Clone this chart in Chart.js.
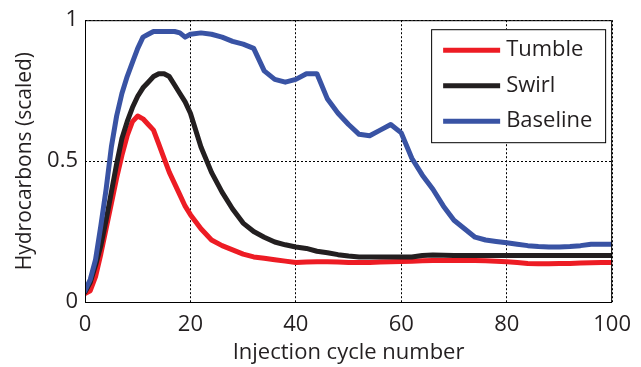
<!DOCTYPE html>
<html>
<head>
<meta charset="utf-8">
<style>
  html, body { margin: 0; padding: 0; background: #fff; }
  #wrap { width: 641px; height: 367px; }
</style>
<script src="https://cdn.jsdelivr.net/npm/chart.js@4/dist/chart.umd.min.js"></script>
</head>
<body>
<div id="wrap"><canvas id="hcChart" width="641" height="367"></canvas></div>
<script>
const cycles = [0, 1, 2, 3, 4, 5, 6, 7, 8, 9, 10, 11, 12, 13, 14, 15, 16, 17, 18, 19, 20,
  22, 24, 26, 28, 30, 32, 34, 36, 38, 40, 42, 44, 46, 48, 50, 52, 54, 56, 58, 60,
  62, 64, 66, 68, 70, 72, 74, 76, 78, 80, 82, 84, 86, 88, 90, 92, 94, 96, 98, 100];

const tumble = [0.03, 0.04, 0.09, 0.17, 0.26, 0.35, 0.44, 0.52, 0.59, 0.64, 0.66, 0.65, 0.63, 0.61, 0.56, 0.51, 0.46, 0.42, 0.38, 0.34, 0.31,
  0.26, 0.22, 0.20, 0.185, 0.17, 0.16, 0.155, 0.15, 0.145, 0.14, 0.142, 0.143, 0.143, 0.142, 0.14, 0.14, 0.14, 0.142, 0.143, 0.144,
  0.145, 0.146, 0.147, 0.147, 0.147, 0.147, 0.147, 0.146, 0.145, 0.143, 0.14, 0.137, 0.136, 0.136, 0.137, 0.137, 0.138, 0.139, 0.14, 0.14];

const swirl = [0.035, 0.07, 0.13, 0.20, 0.29, 0.39, 0.49, 0.58, 0.64, 0.69, 0.73, 0.76, 0.78, 0.80, 0.81, 0.81, 0.80, 0.77, 0.74, 0.71, 0.67,
  0.55, 0.46, 0.39, 0.33, 0.28, 0.25, 0.23, 0.213, 0.203, 0.195, 0.19, 0.18, 0.175, 0.168, 0.163, 0.16, 0.16, 0.16, 0.16, 0.16,
  0.16, 0.165, 0.167, 0.166, 0.165, 0.165, 0.165, 0.165, 0.165, 0.165, 0.165, 0.165, 0.165, 0.165, 0.165, 0.165, 0.165, 0.165, 0.165, 0.165];

const baseline = [0.04, 0.08, 0.15, 0.27, 0.40, 0.55, 0.66, 0.74, 0.80, 0.85, 0.90, 0.94, 0.95, 0.96, 0.96, 0.96, 0.96, 0.96, 0.955, 0.94, 0.95,
  0.955, 0.95, 0.94, 0.925, 0.915, 0.90, 0.82, 0.79, 0.78, 0.79, 0.81, 0.81, 0.72, 0.67, 0.63, 0.595, 0.59, 0.61, 0.63, 0.60,
  0.51, 0.45, 0.40, 0.34, 0.29, 0.26, 0.23, 0.22, 0.215, 0.21, 0.205, 0.20, 0.197, 0.195, 0.195, 0.197, 0.20, 0.205, 0.205, 0.205];

const xTicks = [0, 20, 40, 60, 80, 100];
const yTicks = [0, 0.5, 1];
const xTitle = "Injection cycle number";
const yTitle = "Hydrocarbons (scaled)";

const FONT = "'Open Sans', sans-serif";
const TEXT = "#231f20";

const pts = (ys) => cycles.map((x, i) => ({ x, y: ys[i] }));

// matlab style: solid frame around the plot + boxed legend
const framePlugin = {
  id: "frame",
  afterDatasetsDraw(chart) {
    const { ctx, chartArea: a } = chart;
    ctx.save();
    ctx.strokeStyle = "#000";
    ctx.lineWidth = 1;
    ctx.strokeRect(a.left + 0.5, a.top + 0.5, a.right - a.left - 1, a.bottom - a.top);

    const bx = a.right - 181, by = a.top + 9, bw = 174, bh = 113;
    ctx.fillStyle = "#fff";
    ctx.fillRect(bx, by, bw, bh);
    ctx.strokeRect(bx + 0.5, by + 0.5, bw, bh);
    ctx.font = "22px " + FONT;
    ctx.textBaseline = "middle";
    chart.data.datasets.forEach((ds, i) => {
      const y = by + 21 + i * 35.5;
      ctx.strokeStyle = ds.borderColor;
      ctx.lineWidth = 5;
      ctx.beginPath();
      ctx.moveTo(bx + 12, y);
      ctx.lineTo(bx + 69, y);
      ctx.stroke();
      ctx.fillStyle = TEXT;
      ctx.fillText(ds.label, bx + 75, y);
    });
    ctx.restore();
  },
};

new Chart(document.getElementById("hcChart"), {
  type: "line",
  data: {
    datasets: [
      { label: "Tumble", data: pts(tumble), borderColor: "#ed1c24", order: 3 },
      { label: "Swirl", data: pts(swirl), borderColor: "#231f20", order: 2 },
      { label: "Baseline", data: pts(baseline), borderColor: "#3953a4", order: 1 },
    ],
  },
  options: {
    responsive: false,
    animation: false,
    layout: { padding: { top: 14, right: 27, left: 0, bottom: 0 } },
    elements: {
      line: { borderWidth: 5, tension: 0, borderJoinStyle: "round", borderCapStyle: "round", fill: false },
      point: { radius: 0 },
    },
    plugins: { legend: { display: false }, tooltip: { enabled: false } },
    scales: {
      x: {
        type: "linear",
        min: 0,
        max: 100,
        afterBuildTicks: (s) => { s.ticks = xTicks.map((v) => ({ value: v })); },
        afterFit: (s) => { s.height = 65; },
        ticks: { font: { family: FONT, size: 22 }, color: TEXT, padding: 10, maxRotation: 0 },
        grid: { color: "#000", lineWidth: 1, drawTicks: false },
        border: { display: false, dash: [2, 2] },
        title: { display: true, text: xTitle, font: { family: FONT, size: 22 }, color: TEXT, padding: { top: 0, bottom: 1 } },
      },
      y: {
        type: "linear",
        min: 0,
        max: 1,
        afterBuildTicks: (s) => { s.ticks = yTicks.map((v) => ({ value: v })); },
        afterFit: (s) => { s.width = 85; },
        ticks: { font: { family: FONT, size: 22 }, color: TEXT, padding: 7, callback: (v) => String(v) },
        grid: { color: "#000", lineWidth: 1, drawTicks: false },
        border: { display: false, dash: [2, 2] },
        title: { display: true, text: yTitle, font: { family: FONT, size: 21 }, color: TEXT, padding: { top: 12, bottom: 0 } },
      },
    },
  },
  plugins: [framePlugin],
});
</script>
</body>
</html>
